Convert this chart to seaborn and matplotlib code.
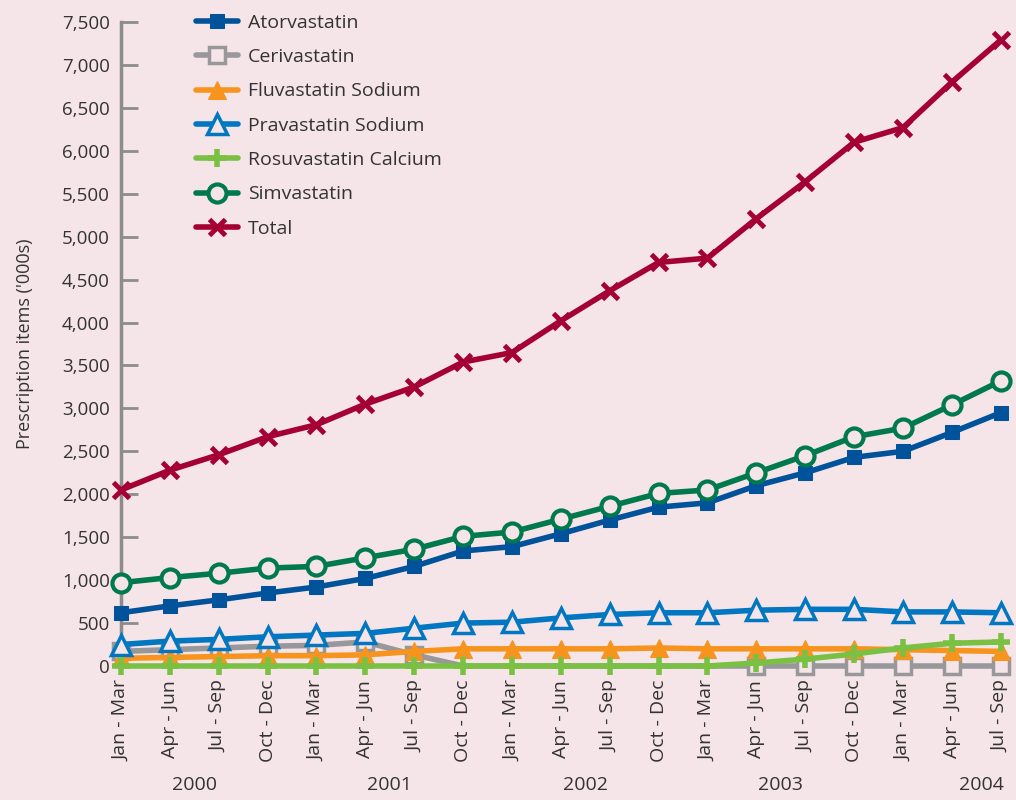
import numpy as np
import pandas as pd
import seaborn as sns
import matplotlib.pyplot as plt

# quarters Jan-Mar 2000 .. Jul-Sep 2004
quarters = ["Jan - Mar", "Apr - Jun", "Jul - Sep", "Oct - Dec"] * 4 + ["Jan - Mar", "Apr - Jun", "Jul - Sep"]
years = ["2000", "2001", "2002", "2003", "2004"]

atorvastatin = [620, 700, 770, 850, 920, 1020, 1160, 1340, 1390, 1540, 1700, 1850, 1900, 2100, 2250, 2430, 2500, 2720, 2950]
cerivastatin = [170, 190, 210, 230, 240, 280, 130, 0, 0, 0, 0, 0, 0, 0, 0, 0, 0, 0, 0]
fluvastatin = [90, 100, 110, 120, 120, 130, 170, 200, 200, 200, 200, 210, 200, 200, 200, 200, 190, 180, 170]
pravastatin = [250, 290, 310, 340, 360, 380, 440, 500, 510, 560, 600, 620, 620, 650, 660, 660, 630, 630, 620]
rosuvastatin = [0, 0, 0, 0, 0, 0, 0, 0, 0, 0, 0, 0, 0, 35, 80, 140, 210, 265, 280]
simvastatin = [970, 1030, 1080, 1140, 1160, 1260, 1360, 1510, 1560, 1710, 1860, 2010, 2050, 2250, 2450, 2670, 2770, 3040, 3320]
total = [2050, 2280, 2460, 2670, 2810, 3050, 3250, 3540, 3650, 4020, 4370, 4700, 4750, 5210, 5640, 6100, 6270, 6800, 7290]

bg = "#f5e4e8"
sns.set_style("white")
plt.rcParams['font.family'] = ['Open Sans', 'DejaVu Sans']

fig = plt.figure(figsize=(10.16, 8), dpi=100, facecolor=bg)
ax = fig.add_axes([0.119, 0.1675, 0.866, 0.805])
ax.set_facecolor(bg)

idx = np.arange(len(quarters))
series = [
    ("Atorvastatin", atorvastatin, "#00529b", "s", dict(markerfacecolor="#00529b", markersize=10)),
    ("Cerivastatin", cerivastatin, "#98989a", "s", dict(markerfacecolor=bg, markersize=11, markeredgewidth=2.5,
                                                          markevery=[0, 1, 2, 3, 4, 5, 6, 13, 14, 15, 16, 17, 18])),
    ("Fluvastatin Sodium", fluvastatin, "#f7941d", "^", dict(markerfacecolor="#f7941d", markersize=13)),
    ("Pravastatin Sodium", pravastatin, "#0077c0", "^", dict(markerfacecolor=bg, markersize=14, markeredgewidth=2.5)),
    ("Rosuvastatin Calcium", rosuvastatin, "#7ac143", "+", dict(markersize=13, markeredgewidth=4)),
    ("Simvastatin", simvastatin, "#007a4d", "o", dict(markerfacecolor=bg, markersize=13, markeredgewidth=3)),
    ("Total", total, "#a50034", "x", dict(markersize=12, markeredgewidth=3.5)),
]

for name, vals, col, mk, kw in series:
    df = pd.DataFrame({"q": idx, "v": vals})
    sns.lineplot(data=df, x="q", y="v", ax=ax, color=col, marker=mk, linewidth=4,
                 markeredgecolor=col, label=name, clip_on=False, **kw)

ax.set_xlim(0, 18)
ax.set_ylim(0, 7500)
ax.set_yticks(np.arange(0, 7501, 500))
ax.set_yticklabels([f"{v:,}" for v in range(0, 7501, 500)], fontsize=13.5, color="#333333")
ax.tick_params(axis="y", direction="in", length=12.5, width=2, color="#8c8c8c", pad=8, left=True)
ax.set_xticks(idx)
ax.set_xticklabels(quarters, rotation=90, fontsize=14, color="#333333")
ax.tick_params(axis="x", length=0, pad=10)
for s in ["top", "right", "bottom"]:
    ax.spines[s].set_visible(False)
ax.spines["left"].set_color("#8c8c8c")
ax.spines["left"].set_linewidth(2.5)
ax.spines["left"].set_zorder(0)
ax.set_xlabel("")
ax.set_ylabel("Prescription items ('000s)", fontsize=13, color="#333333", labelpad=20)

year_pos = [1.5, 5.5, 9.5, 13.5, 17.6]
for yp, yr in zip(year_pos, years):
    ax.text(yp, -0.185, yr, transform=ax.get_xaxis_transform(), ha="center", va="center",
            fontsize=14, color="#333333")

leg = ax.legend(loc="upper left", bbox_to_anchor=(0.065, 1.04), frameon=False, fontsize=14,
                handlelength=2.2, labelspacing=0.84, handletextpad=0.5)
for t in leg.get_texts():
    t.set_color("#333333")

fig.savefig("out.png", dpi=100, facecolor=bg)
